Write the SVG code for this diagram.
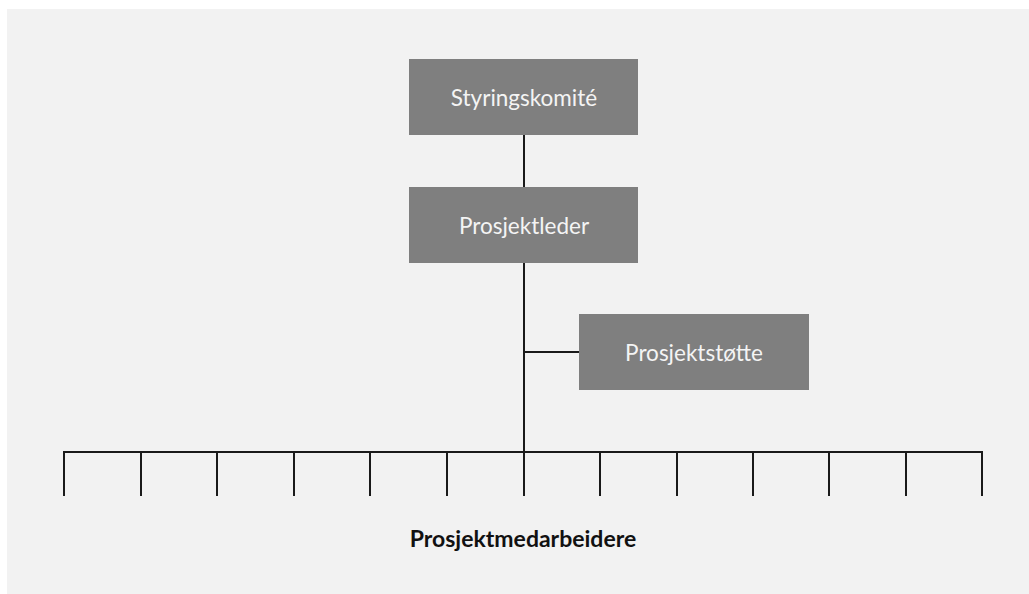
<svg xmlns="http://www.w3.org/2000/svg" width="1029" height="594" viewBox="0 0 1029 594">
  <style>
    .box { fill: #7f7f7f; }
    .label { font-family: Lato, "Open Sans", "Liberation Sans", sans-serif; font-size: 22.5px; fill: #f4f4f4; text-anchor: middle; }
    .wire { stroke: #1a1a1a; stroke-width: 2; fill: none; }
    .caption { font-family: Lato, "Open Sans", "Liberation Sans", sans-serif; font-size: 23px; font-weight: bold; fill: #111; text-anchor: middle; }
  </style>
  <rect x="0" y="0" width="1029" height="594" fill="#ffffff"/>
  <rect x="7" y="9" width="1022" height="585" fill="#f2f2f2"/>

  <g id="connectors">
    <path class="wire" d="M524 135 V187 M524 263 V452 M524 352 H579"/>
    <path class="wire" d="M63 452 H983"/>
    <path class="wire" d="M64 452 V496 M141 452 V496 M217 452 V496 M294 452 V496 M370 452 V496 M447 452 V496 M524 452 V496 M600 452 V496 M677 452 V496 M753 452 V496 M829 452 V496 M906 452 V496 M982 452 V496"/>
  </g>

  <g id="styringskomite">
    <rect class="box" x="409" y="59" width="229" height="76"/>
    <text class="label" x="524" y="106">Styringskomité</text>
  </g>
  <g id="prosjektleder">
    <rect class="box" x="409" y="187" width="229" height="76"/>
    <text class="label" x="524" y="234">Prosjektleder</text>
  </g>
  <g id="prosjektstotte">
    <rect class="box" x="579" y="314" width="230" height="76"/>
    <text class="label" x="694" y="361">Prosjektstøtte</text>
  </g>
  <g id="prosjektmedarbeidere">
    <text class="caption" x="523" y="547">Prosjektmedarbeidere</text>
  </g>
</svg>
